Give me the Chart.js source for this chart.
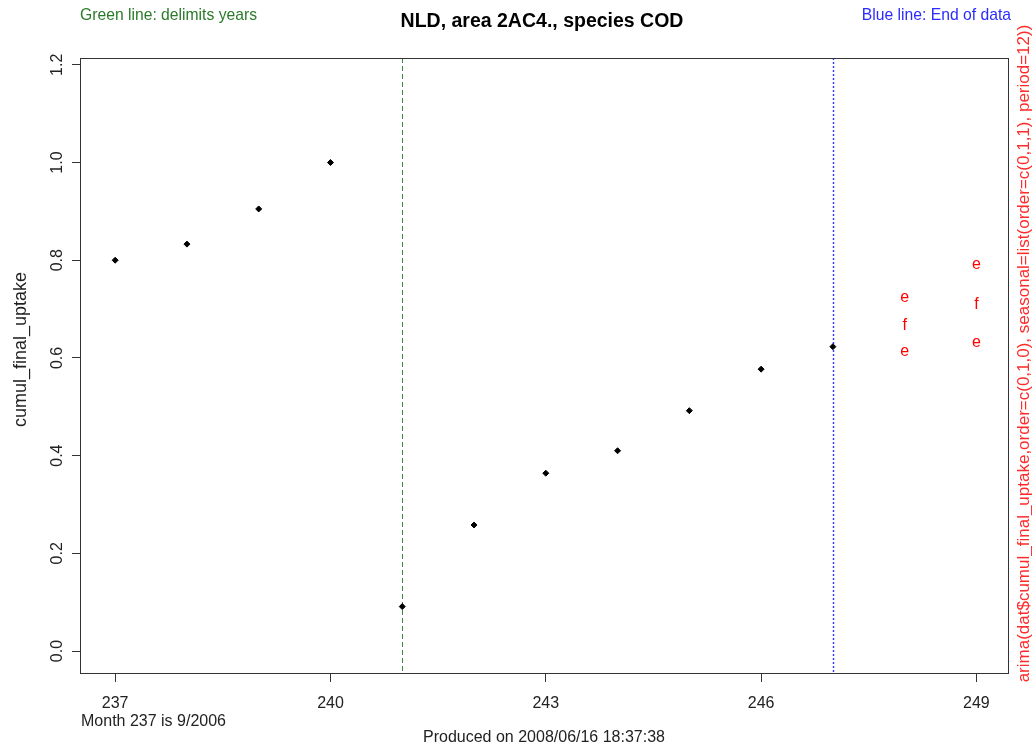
<!DOCTYPE html>
<html lang="en">
<head>
<meta charset="UTF-8">
<title>NLD, area 2AC4., species COD</title>
<script src="https://cdn.jsdelivr.net/npm/chart.js"></script>
<style>
    body { margin: 0; padding: 0; background: #ffffff; }
    .chart-box { position: relative; width: 1032px; height: 748px; }
</style>
</head>
<body>
<div class="chart-box">
    <canvas id="uptakeChart" width="1032" height="748"></canvas>
</div>
<script>
    // observed months and cumulative uptake
    const months = [237, 238, 239, 240, 241, 242, 243, 244, 245, 246, 247];
    const uptake = [0.800, 0.833, 0.905, 1.000, 0.091, 0.258, 0.364, 0.410, 0.492, 0.577, 0.623];

    // arima forecast: lower 'e', forecast 'f', upper 'e'
    const fcMonths = [248, 249];
    const fcLower = [0.612, 0.631];
    const fcMid = [0.667, 0.710];
    const fcUpper = [0.724, 0.792];

    const xTicks = [237, 240, 243, 246, 249];
    const yTicks = [0.0, 0.2, 0.4, 0.6, 0.8, 1.0, 1.2];

    const yearLine = 241;   // green: delimits years
    const endLine = 247;    // blue: end of data

    const FONT = '"Liberation Sans", Arial, sans-serif';
    const INK = '#222222';

    const toPts = (xs, ys) => xs.map((x, i) => ({ x: x, y: ys[i] }));

    // draws box, vertical lines, forecast letters, rotated y labels and captions
    const extras = {
        id: 'extras',
        beforeDatasetsDraw(chart) {
            const ctx = chart.ctx;
            const area = chart.chartArea;
            const xs = chart.scales.x;
            ctx.save();
            ctx.lineWidth = 1;

            ctx.strokeStyle = '#3c8c3c';
            ctx.setLineDash([5, 3]);
            let px = Math.round(xs.getPixelForValue(yearLine)) + 0.5;
            ctx.beginPath();
            ctx.moveTo(px, area.top);
            ctx.lineTo(px, area.bottom);
            ctx.stroke();

            ctx.strokeStyle = 'rgb(50, 50, 255)';
            ctx.lineWidth = 1.4;
            ctx.setLineDash([2, 2]);
            px = Math.round(xs.getPixelForValue(endLine)) + 0.5;
            ctx.beginPath();
            ctx.moveTo(px, area.top);
            ctx.lineTo(px, area.bottom);
            ctx.stroke();
            ctx.restore();
        },
        afterDraw(chart) {
            const ctx = chart.ctx;
            const area = chart.chartArea;
            const ys = chart.scales.y;
            ctx.save();

            // plot box
            ctx.strokeStyle = '#333333';
            ctx.lineWidth = 1;
            ctx.strokeRect(Math.round(area.left) + 0.5, Math.round(area.top) + 0.5,
                Math.round(area.right - area.left), Math.round(area.bottom - area.top));

            // forecast letters
            ctx.fillStyle = '#ff0000';
            ctx.font = '16px ' + FONT;
            ctx.textAlign = 'center';
            ctx.textBaseline = 'middle';
            chart.data.datasets.forEach((ds, i) => {
                if (!ds.letter) return;
                chart.getDatasetMeta(i).data.forEach(pt => {
                    ctx.fillText(ds.letter, pt.x, pt.y);
                });
            });

            // rotated y tick labels
            ctx.fillStyle = INK;
            yTicks.forEach(v => {
                ctx.save();
                ctx.translate(58, ys.getPixelForValue(v));
                ctx.rotate(-Math.PI / 2);
                ctx.fillText(v.toFixed(1), 0, 0);
                ctx.restore();
            });

            const midY = (area.top + area.bottom) / 2;
            const midX = (area.left + area.right) / 2;

            ctx.save();
            ctx.font = '18px ' + FONT;
            ctx.translate(21, midY - 16);
            ctx.rotate(-Math.PI / 2);
            ctx.fillText('cumul_final_uptake', 0, 0);
            ctx.restore();

            ctx.save();
            ctx.font = '17px ' + FONT;
            ctx.fillStyle = '#ff2a2a';
            ctx.translate(1024, midY - 12);
            ctx.rotate(-Math.PI / 2);
            ctx.fillText('arima(dat$cumul_final_uptake,order=c(0,1,0), seasonal=list(order=c(0,1,1), period=12))', 0, 0);
            ctx.restore();

            // title and captions
            ctx.font = 'bold 19.5px ' + FONT;
            ctx.fillStyle = '#000000';
            ctx.fillText('NLD, area 2AC4., species COD', midX - 2, 22);

            ctx.font = '15.7px ' + FONT;
            ctx.textAlign = 'left';
            ctx.fillStyle = '#2a7a2a';
            ctx.fillText('Green line: delimits years', 80, 16);
            ctx.textAlign = 'right';
            ctx.fillStyle = '#2b2bff';
            ctx.fillText('Blue line: End of data', 1011, 16);

            ctx.font = '16px ' + FONT;
            ctx.fillStyle = INK;
            ctx.textAlign = 'left';
            ctx.fillText('Month 237 is 9/2006', 81, 722);
            ctx.textAlign = 'center';
            ctx.fillText('Produced on 2008/06/16 18:37:38', midX, 738);
            ctx.restore();
        }
    };

    const ctx = document.getElementById('uptakeChart').getContext('2d');
    const chart = new Chart(ctx, {
        type: 'scatter',
        data: {
            datasets: [
                {
                    label: 'cumul_final_uptake',
                    data: toPts(months, uptake),
                    pointStyle: 'rectRot',
                    pointRadius: 3,
                    borderWidth: 1,
                    backgroundColor: '#000000',
                    borderColor: '#000000'
                },
                { label: 'lower', letter: 'e', data: toPts(fcMonths, fcLower), pointRadius: 0 },
                { label: 'forecast', letter: 'f', data: toPts(fcMonths, fcMid), pointRadius: 0 },
                { label: 'upper', letter: 'e', data: toPts(fcMonths, fcUpper), pointRadius: 0 }
            ]
        },
        options: {
            responsive: false,
            animation: false,
            layout: { padding: { top: 58, right: 24, left: 0, bottom: 0 } },
            plugins: {
                legend: { display: false },
                tooltip: { enabled: false }
            },
            scales: {
                x: {
                    type: 'linear',
                    min: 236.51,
                    max: 249.44,
                    afterBuildTicks: s => { s.ticks = xTicks.map(v => ({ value: v })); },
                    afterFit: s => { s.height = 75; },
                    grid: { drawOnChartArea: false, drawTicks: true, tickLength: 9, color: '#333333' },
                    border: { color: '#333333' },
                    ticks: {
                        color: INK,
                        padding: 12,
                        maxRotation: 0,
                        autoSkip: false,
                        font: { family: FONT, size: 16 },
                        callback: v => String(v)
                    }
                },
                y: {
                    type: 'linear',
                    min: -0.045,
                    max: 1.214,
                    afterBuildTicks: s => { s.ticks = yTicks.map(v => ({ value: v })); },
                    afterFit: s => { s.width = 80; },
                    grid: { drawOnChartArea: false, drawTicks: true, tickLength: 8, color: '#333333' },
                    border: { color: '#333333' },
                    ticks: { display: false }
                }
            }
        },
        plugins: [extras]
    });
</script>
</body>
</html>
